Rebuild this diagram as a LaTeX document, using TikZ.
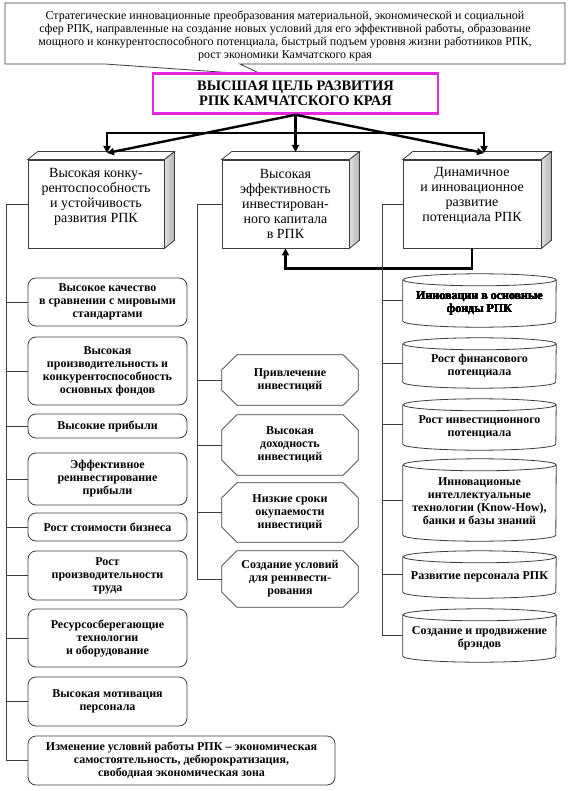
\documentclass[tikz,border=0pt]{standalone}
\usepackage{fontspec}
\setmainfont{Liberation Serif}
\usetikzlibrary{arrows.meta}
\definecolor{pinkline}{RGB}{228,40,224}
\definecolor{edge}{RGB}{60,60,60}
\tikzset{
  itemfont/.style={font=\fontsize{12}{13}\selectfont\bfseries},
  lbox/.style={draw=edge, line width=0.8pt, rounded corners=8pt, align=center, itemfont, inner sep=0pt, minimum width=159pt},
  oct/.style={align=center, itemfont, inner sep=0pt, minimum width=136pt},
  cyl/.style={inner sep=0pt, minimum width=153pt},
  cyltext/.style={align=center, itemfont, inner sep=0pt},
  frontbox/.style={draw=edge, line width=0.8pt, fill=white, inner sep=0pt},
  boxtext/.style={align=center, font=\fontsize{14}{15}\selectfont, inner sep=0pt},
  branch/.style={draw=edge, line width=0.8pt},
  thickarrow/.style={line width=2.4pt, -{Triangle[length=7pt,width=7pt]}},
  thickboth/.style={line width=2.4pt, {Triangle[length=7pt,width=7pt]}-{Triangle[length=7pt,width=7pt]}},
}
\newcommand\threedbox[1]{%
  \draw[draw=edge, line width=0.8pt, fill=white] (#1.north west) -- ++(10,-8) -- ([shift={(10,-8)}]#1.north east) -- (#1.north east) -- cycle;
  \draw[draw=edge, line width=0.8pt, left color=gray!25, right color=gray!60] (#1.north east) -- ++(10,-8) -- ([shift={(10,-8)}]#1.south east) -- (#1.south east) -- cycle;}
\newcommand\octagonbox[1]{%
  \draw[draw=edge, line width=0.8pt] ([xshift=15pt]#1.north west) -- ([xshift=-15pt]#1.north east) -- ([yshift=-15pt]#1.north east) -- ([yshift=15pt]#1.south east) -- ([xshift=-15pt]#1.south east) -- ([xshift=15pt]#1.south west) -- ([yshift=15pt]#1.south west) -- ([yshift=-15pt]#1.north west) -- cycle;}
\newcommand\cylinderbox[1]{%
  \draw[draw=edge, line width=0.8pt] ([yshift=-6pt]#1.north west) -- ([yshift=6pt]#1.south west) arc[start angle=180, end angle=360, x radius=76.5pt, y radius=6pt] -- ([yshift=-6pt]#1.north east) arc[start angle=0, end angle=180, x radius=76.5pt, y radius=6pt] arc[start angle=180, end angle=360, x radius=76.5pt, y radius=6pt];}
\begin{document}
\begin{tikzpicture}[x=1pt, y=-1pt]
\path[use as bounding box, fill=white] (0,0) rectangle (570,791);

% callout
\draw[draw=edge, line width=0.8pt, fill=white] (5,3) -- (565,3) -- (565,64) -- (240,64) -- (263,75) -- (105,64) -- (5,64) -- cycle;
\node[align=center, font=\fontsize{12}{13}\selectfont, inner sep=0pt] (calltext) at (285,35.5)
 {Стратегические инновационные преобразования материальной, экономической и социальной\\
  сфер РПК, направленные на создание новых условий для его эффективной работы, образование\\
  мощного и конкурентоспособного потенциала, быстрый подъем уровня жизни работников РПК,\\
  рост экономики Камчатского края};

% goal
\node[draw=pinkline, line width=2.6pt, fill=white, minimum width=285pt, minimum height=40pt, align=center, inner sep=0pt,
      font=\fontsize{14.5}{15.5}\selectfont\bfseries] (goal) at (295.5,93.5)
 {ВЫСШАЯ ЦЕЛЬ РАЗВИТИЯ\\РПК КАМЧАТСКОГО КРАЯ};

% 3D boxes
\node[frontbox, minimum width=136pt, minimum height=88pt] (b1) at (96,204) {};
\threedbox{b1}
\node[boxtext] (b1t) at ([yshift=7pt]b1.center) {Высокая конку-\\рентоспособность\\и устойчивость\\развития РПК};
\node[frontbox, minimum width=127pt, minimum height=88pt] (b2) at (285.5,204) {};
\threedbox{b2}
\node[boxtext] (b2t) at (b2.center) {Высокая\\эффективность\\инвестирован-\\ного капитала\\в РПК};
\node[frontbox, minimum width=138pt, minimum height=88pt] (b3) at (472,204) {};
\threedbox{b3}
\node[boxtext] (b3t) at ([yshift=8pt]b3.center) {Динамичное\\и инновационное\\развитие\\потенциала РПК};

% top arrows
\coordinate (lt) at (107,153);
\coordinate (mt) at (295.5,152);
\coordinate (rt) at (484,153);
\coordinate (bl) at (107,133);
\coordinate (br) at (484,133);
\draw[thickboth, line join=miter] (lt) -- (bl) -- (br) -- (rt);
\draw[thickarrow] (goal.south) -- (lt);
\draw[thickarrow] (goal.south) -- (mt);
\draw[thickarrow] (goal.south) -- (rt);
\draw[thickarrow, line join=miter] (b3.south) -- ++(0,20) -| (b2.south);

% left column
\node[lbox, minimum height=48pt] (l1) at (107.5,302) {Высокое качество\\в сравнении с мировыми\\стандартами};
\node[lbox, minimum height=68pt] (l2) at (107.5,371) {Высокая\\производительность и\\конкурентоспособность\\основных фондов};
\node[lbox, minimum height=24pt] (l3) at (107.5,426) {Высокие прибыли};
\node[lbox, minimum height=52pt] (l4) at (107.5,479) {Эффективное\\реинвестирование\\прибыли};
\node[lbox, minimum height=28pt] (l5) at (107.5,527) {Рост стоимости бизнеса};
\node[lbox, minimum height=49pt] (l6) at (107.5,575.5) {Рост\\производительности\\труда};
\node[lbox, minimum height=58pt] (l7) at (107.5,638) {Ресурсосберегающие\\технологии\\и оборудование};
\node[lbox, minimum height=49pt] (l8) at (107.5,701.5) {Высокая мотивация\\персонала};
\node[lbox, minimum height=49pt, minimum width=307pt] (l9) at (181.5,760.5) {Изменение условий работы РПК – экономическая\\самостоятельность, дебюрократизация,\\свободная экономическая зона};
\draw[branch] (b1.west) -- ++(-21,0) |- (l9.west);
\foreach \n in {l1,l2,l3,l4,l5,l6,l7,l8} \draw[branch] (\n.west) -- ++(-21,0);

% middle column
\node[oct, minimum height=50pt] (m1) at (290,380) {Привлечение\\инвестиций};
\node[oct, minimum height=60pt] (m2) at (290,445) {Высокая\\доходность\\инвестиций};
\node[oct, minimum height=59pt] (m3) at (290,512.5) {Низкие сроки\\окупаемости\\инвестиций};
\node[oct, minimum height=56pt] (m4) at (290,579) {Создание условий\\для реинвести-\\рования};
\foreach \n in {m1,m2,m3,m4} \octagonbox{\n}
\draw[branch] (b2.west) -- ++(-24,0) |- (m4.west);
\foreach \n in {m1,m2,m3} \draw[branch] (\n.west) -- ++(-24,0);

% right column
\node[cyl, minimum height=53pt] (c1) at (479.5,300.5) {};
\node[cyl, minimum height=50pt] (c2) at (479.5,363) {};
\node[cyl, minimum height=51pt] (c3) at (479.5,424.5) {};
\node[cyl, minimum height=82pt] (c4) at (479.5,500) {};
\node[cyl, minimum height=47pt] (c5) at (479.5,574.5) {};
\node[cyl, minimum height=53pt] (c6) at (479.5,635.5) {};
\foreach \n in {c1,c2,c3,c4,c5,c6} \cylinderbox{\n}
\node[cyltext] (c1t) at ([yshift=-3pt]c1.center) {Инновации в основные\\фонды РПК};
\node[cyltext] (c2t) at ([yshift=-3pt]c2.center) {Рост финансового\\потенциала};
\node[cyltext] (c3t) at ([yshift=-3pt]c3.center) {Рост инвестиционного\\потенциала};
\node[cyltext] (c4t) at ([yshift=-1pt]c4.center) {Инновационые\\интеллектуальные\\технологии (Know-How),\\банки и базы знаний};
\node[cyltext] (c5t) at ([yshift=-2pt]c5.center) {Развитие персонала РПК};
\node[cyltext] (c6t) at ([yshift=-3pt]c6.center) {Создание и продвижение\\брэндов};
\draw[branch] (b3.west) -- ++(-20,0) |- (c6.west);
\foreach \n in {c1,c2,c3,c4,c5} \draw[branch] (\n.west) -- ++(-20,0);
\end{tikzpicture}
\end{document}
